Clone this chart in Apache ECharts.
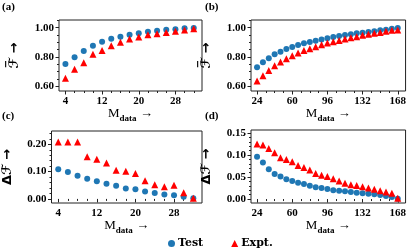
<!DOCTYPE html>
<html><head><meta charset="utf-8">
<script src="https://cdn.jsdelivr.net/npm/echarts@6/dist/echarts.min.js"></script>
<style>html,body{margin:0;padding:0;background:#fff}#c{width:409px;height:250px}</style>
</head><body><div id="c"></div>
<script>
// ---- data ----
const mSmall = [4,6,8,10,12,14,16,18,20,22,24,26,28,30,32];
const mLarge = [24,30,36,42,48,54,60,66,72,78,84,90,96,102,108,114,120,126,132,138,144,150,156,162,168];
const fTestA = [0.751,0.797,0.840,0.877,0.904,0.925,0.938,0.952,0.962,0.973,0.979,0.986,0.989,0.996,0.998];
const fExptA = [0.653,0.715,0.760,0.818,0.843,0.877,0.900,0.923,0.936,0.952,0.959,0.968,0.975,0.984,0.993];
const fTestB = [0.729,0.763,0.790,0.818,0.836,0.854,0.868,0.882,0.893,0.902,0.911,0.920,0.927,0.936,0.943,0.950,0.955,0.962,0.966,0.971,0.975,0.982,0.986,0.993,0.998];
const fExptB = [0.635,0.671,0.706,0.740,0.765,0.788,0.808,0.827,0.843,0.856,0.870,0.884,0.895,0.904,0.913,0.923,0.932,0.938,0.948,0.955,0.962,0.968,0.975,0.982,0.984];
const dTestC = [0.109,0.099,0.085,0.074,0.065,0.056,0.048,0.038,0.035,0.027,0.022,0.016,0.013,0.008,0.002];
const dExptC = [0.209,0.209,0.209,0.155,0.145,0.132,0.105,0.101,0.093,0.067,0.052,0.045,0.050,0.023,0.002];
const dTestD = [0.096,0.083,0.068,0.057,0.051,0.045,0.041,0.037,0.034,0.030,0.027,0.025,0.023,0.020,0.019,0.0175,0.016,0.0145,0.013,0.012,0.0107,0.009,0.0068,0.0045,0.0005];
const dExptD = [0.125,0.123,0.115,0.105,0.094,0.090,0.085,0.076,0.072,0.066,0.058,0.054,0.051,0.046,0.041,0.036,0.0325,0.031,0.028,0.025,0.022,0.019,0.016,0.013,0.0016];
// ticks
const xTicksA = [4,12,20,28];
const xMinorA = [6,8,10,14,16,18,22,24,26,30,32];
const xTicksB = [24,60,96,132,168];
const xMinorB = [33,42,51,69,78,87,105,114,123,141,150,159];
const yTicksF = [0.60,0.80,1.00];
const yMinorF = [0.65,0.70,0.75,0.85,0.90,0.95,1.05];
const yTicksC = [0.00,0.10,0.20];
const yMinorC = [0.02,0.04,0.06,0.08,0.12,0.14,0.16,0.18,0.22,0.24];
const yTicksD = [0.00,0.05,0.10,0.15];
const yMinorD = [0.01,0.02,0.03,0.04,0.06,0.07,0.08,0.09,0.11,0.12,0.13,0.14];

const SERIF = '"Liberation Serif","DejaVu Serif",serif';
const DSERIF = '"DejaVu Serif",serif';
const INK = '#222';
const BLUE = '#1f77b4', RED = '#ff0000';

const grids = [
  {left:46, top:20, width:156, height:71},
  {left:251, top:20, width:156, height:71},
  {left:46, top:131, width:156, height:72},
  {left:251, top:130, width:156, height:73}
].map(g => Object.assign(g, {show:true, borderColor:INK, borderWidth:1, backgroundColor:'transparent'}));

const xRich = {
  m: {fontFamily:SERIF, fontSize:13, color:'#000', verticalAlign:'bottom', lineHeight:14},
  s: {fontFamily:SERIF, fontSize:9, fontWeight:'bold', color:'#000', verticalAlign:'bottom', lineHeight:10, padding:[0,0,-3,0]}
};
const yRich = {
  o: {fontFamily:'"DejaVu Sans",sans-serif', fontSize:10, fontWeight:'bold', color:'#000', lineHeight:4, padding:[0,17,0,0]},
  f: {fontFamily:'"DejaVu Sans",sans-serif', fontSize:13, fontWeight:'bold', color:'#000', lineHeight:14}
};

const xAxes = [], yAxes = [];
function addX(grid, min, max, ticks, minor) {
  xAxes.push({type:'value', gridIndex:grid, min, max, position:'bottom',
    axisLine:{show:false}, splitLine:{show:false},
    axisTick:{show:true, customValues:ticks, length:3.5, lineStyle:{color:INK, width:1}},
    axisLabel:{customValues:ticks, margin:5, fontFamily:SERIF, fontWeight:'bold', fontSize:11, color:'#000'},
    name:'{m|M}{s|data} {m|\u2192}', nameLocation:'middle', nameGap:15, nameMoveOverlap:false,
    nameTextStyle:{rich:xRich}
  });
  xAxes.push({type:'value', gridIndex:grid, min, max, position:'bottom',
    axisLine:{show:false}, splitLine:{show:false}, axisLabel:{show:false},
    axisTick:{show:true, customValues:minor, length:2, lineStyle:{color:INK, width:1}}});
}
function addY(grid, min, max, ticks, minor, name) {
  yAxes.push({type:'value', gridIndex:grid, min, max, position:'left',
    axisLine:{show:false}, splitLine:{show:false},
    axisTick:{show:true, customValues:ticks, length:3.5, lineStyle:{color:INK, width:1}},
    axisLabel:{customValues:ticks, margin:5, fontFamily:SERIF, fontWeight:'bold', fontSize:11, color:'#000',
      formatter: v => Number(v).toFixed(2)},
    name, nameLocation:'middle', nameGap:37, nameRotate:90, nameMoveOverlap:false,
    nameTextStyle:{rich:yRich, fontFamily:'"DejaVu Sans",sans-serif', fontWeight:'bold', fontSize:13, color:'#000'}
  });
  yAxes.push({type:'value', gridIndex:grid, min, max, position:'left',
    axisLine:{show:false}, splitLine:{show:false}, axisLabel:{show:false},
    axisTick:{show:true, customValues:minor, length:2, lineStyle:{color:INK, width:1}}});
}
const fName = '{o|\u2212}\n{f|\u2131 \u2192}';
const dName = '{f|\u0394\u2131 \u2192}';
addX(0, 2.6, 33.8, xTicksA, xMinorA);
addX(1, 17.8, 176, xTicksB, xMinorB);
addX(2, 2.6, 33.8, xTicksA, xMinorA);
addX(3, 17.8, 176, xTicksB, xMinorB);
addY(0, 0.566, 1.053, yTicksF, yMinorF, fName);
addY(1, 0.566, 1.053, yTicksF, yMinorF, fName);
addY(2, -0.015, 0.249, yTicksC, yMinorC, dName);
addY(3, -0.009, 0.157, yTicksD, yMinorD, dName);

function pairs(xs, ys) { return xs.map((x,i) => [x, ys[i]]); }
const series = [];
function addPanel(p, xs, test, expt) {
  series.push({type:'scatter', name:'Test', xAxisIndex:2*p, yAxisIndex:2*p, data:pairs(xs,test),
    symbol:'circle', symbolSize:6, itemStyle:{color:BLUE, opacity:1}, z:2});
  series.push({type:'scatter', name:'Expt.', xAxisIndex:2*p, yAxisIndex:2*p, data:pairs(xs,expt),
    symbol:'triangle', symbolSize:7, itemStyle:{color:RED, opacity:1}, z:3});
}
addPanel(0, mSmall, fTestA, fExptA);
addPanel(1, mLarge, fTestB, fExptB);
addPanel(2, mSmall, dTestC, dExptC);
addPanel(3, mLarge, dTestD, dExptD);

const panelLabel = (t, x, y) => ({type:'text', left:x, top:y,
  style:{text:t, font:'bold 11px ' + SERIF, fill:'#000'}});

const chart = echarts.init(document.getElementById('c'), null, {renderer:'canvas'});
chart.setOption({
  animation:false,
  backgroundColor:'#fff',
  grid: grids,
  xAxis: xAxes,
  yAxis: yAxes,
  series,
  legend: {left:163, top:233, itemWidth:7, itemHeight:7, itemGap:28, selectedMode:false,
    textStyle:{fontFamily:DSERIF, fontWeight:'bold', fontSize:11, color:'#000', padding:[0,0,0,-2]},
    data:[{name:'Test', icon:'circle'}, {name:'Expt.', icon:'triangle'}]},
  graphic: [panelLabel('(a)',2,2), panelLabel('(b)',205,2), panelLabel('(c)',2,111), panelLabel('(d)',205,111)]
});
</script></body></html>
